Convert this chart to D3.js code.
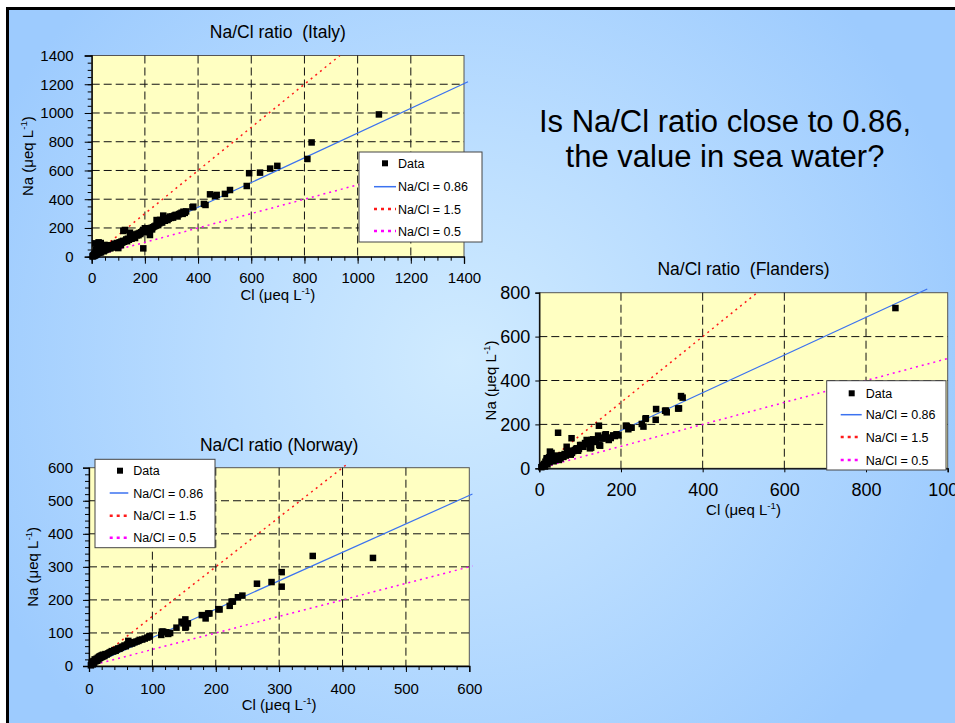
<!DOCTYPE html>
<html><head><meta charset="utf-8">
<script src="https://cdn.jsdelivr.net/npm/d3@7"></script>
<style>html,body{margin:0;padding:0;background:#fff;}svg{display:block;}text{font-family:"Liberation Sans",Arial,sans-serif;}</style>
</head><body>
<script>
// ---------- DATA ----------
const ratios = [0.86, 1.5, 0.5];
const legendLabels = ["Data", "Na/Cl = 0.86", "Na/Cl = 1.5", "Na/Cl = 0.5"];

// Italy (Cl, Na)
const italyData = [
[3,2],[5,8],[6,4],[8,12],[9,6],[10,15],[11,9],[12,20],[13,93],[14,11],[15,30],[16,14],[17,50],[18,22],[19,70],[20,18],[21,40],[22,85],[23,25],[24,60],[25,30],[26,100],[27,35],[28,75],[29,28],[30,45],[31,81],[32,55],[33,38],[34,95],[35,30],[36,65],[38,48],[40,42],[42,70],[44,55],[45,38],[47,60],[48,82],[50,45],[52,66],[54,50],[55,75],[57,58],[60,52],[62,70],[64,60],[66,80],[68,62],[70,58],[72,75],[75,68],[78,80],[80,70],[83,64],[85,90],[88,78],[90,72],[92,85],[95,95],[98,82],[100,60],[102,90],[105,100],[108,88],[110,80],[112,105],[115,98],[118,110],[119,179],[122,104],[125,186],[128,112],[130,120],[133,108],[136,125],[140,118],[144,167],[145,130],[148,140],[150,125],[153,135],[156,150],[160,140],[163,130],[166,155],[170,148],[173,160],[176,150],[180,165],[183,158],[186,170],[190,175],[194,58],[194,186],[198,170],[200,198],[204,180],[208,190],[212,185],[215,195],[219,186],[219,151],[223,200],[227,190],[230,205],[235,210],[240,215],[244,255],[247,225],[250,220],[254,232],[257,256],[260,240],[265,238],[269,286],[272,260],[275,250],[280,270],[285,255],[290,265],[294,279],[298,270],[302,280],[306,272],[310,285],[315,290],[319,290],[323,280],[328,295],[332,300],[338,306],[342,298],[345,313],[350,305],[355,315],[379,344],[382,348],[422,367],[428,360],[445,434],[464,423],[470,430],[501,437],[520,464],[583,492],[592,581],[633,585],[671,613],[698,632],[811,680],[827,795],[1080,990]
];
// Flanders (Cl, Na)
const flandersData = [
[5,5],[8,10],[10,15],[12,20],[14,8],[15,30],[17,25],[18,38],[18,46],[20,18],[22,35],[24,50],[25,28],[26,76],[28,60],[29,40],[30,70],[32,45],[34,55],[35,32],[37,48],[40,42],[42,58],[45,50],[46,162],[48,38],[50,55],[52,45],[55,60],[58,52],[59,53],[62,65],[65,58],[67,98],[68,75],[71,68],[74,80],[77,62],[79,137],[80,70],[83,78],[87,83],[90,88],[92,91],[95,80],[97,88],[100,106],[104,106],[108,98],[112,115],[116,129],[120,110],[124,114],[124,91],[127,94],[128,129],[132,132],[136,120],[140,125],[144,149],[146,194],[147,106],[149,103],[152,140],[155,135],[161,152],[163,155],[165,140],[170,129],[175,138],[181,150],[185,147],[189,155],[194,150],[212,194],[214,193],[218,178],[222,185],[226,185],[251,202],[255,190],[260,225],[261,228],[285,221],[286,270],[308,262],[310,263],[312,255],[340,272],[342,273],[347,329],[351,322],[872,730]
];
// Norway (Cl, Na)
const norwayData = [
[3,2],[4,8],[5,12],[6,5],[7,15],[8,10],[9,20],[10,14],[11,18],[12,22],[13,16],[14,25],[15,20],[16,28],[17,24],[18,30],[19,26],[20,32],[21,28],[22,34],[24,30],[25,33],[26,36],[28,35],[30,38],[32,40],[34,42],[36,45],[38,44],[40,48],[42,46],[44,50],[46,53],[48,52],[50,55],[52,58],[54,58],[56,62],[58,60],[60,65],[62,76],[64,66],[66,70],[68,68],[70,72],[72,72],[75,74],[78,76],[80,79],[84,80],[88,83],[92,86],[95,89],[96,91],[114,94],[115,104],[117,104],[122,102],[125,97],[128,100],[138,116],[146,134],[149,129],[152,141],[152,116],[153,119],[156,129],[178,154],[184,144],[188,159],[190,159],[204,172],[206,171],[222,182],[225,195],[227,195],[235,208],[242,213],[265,249],[288,254],[304,284],[304,240],[353,333],[448,327]
];
// Ratio line end (Cl value) for [0.86, 1.5, 0.5]
const italyLineEnds = [1415, 933, 1415];
const flandersLineEnds = [950, 537, 1000];
const norwayLineEnds = [605, 405, 605];

// Tick values
const italyTicks = [0,200,400,600,800,1000,1200,1400];
const flandersXTicks = [0,200,400,600,800,1000];
const flandersYTicks = [0,200,400,600,800];
const norwayTicks = [0,100,200,300,400,500,600];

const titles = ["Na/Cl ratio  (Italy)", "Na/Cl ratio  (Flanders)", "Na/Cl ratio (Norway)"];
const question = ["Is Na/Cl ratio close to 0.86,", "the value in sea water?"];

// ---------- DRAW ----------
const W = 955, H = 723;
const svg = d3.select("body").append("svg").attr("width", W).attr("height", H);
const defs = svg.append("defs");
const rg = defs.append("radialGradient").attr("id","bg").attr("gradientUnits","userSpaceOnUse")
  .attr("cx",460).attr("cy",360).attr("r",520);
rg.append("stop").attr("offset","0").attr("stop-color","#D0EBFF");
rg.append("stop").attr("offset","0.45").attr("stop-color","#BADDFF");
rg.append("stop").attr("offset","1").attr("stop-color","#9DCBFE");

svg.append("rect").attr("width",W).attr("height",H).attr("fill","#fff");
svg.append("rect").attr("x",8).attr("y",8).attr("width",W-8).attr("height",H-8).attr("fill","url(#bg)");
svg.append("path").attr("d","M7.5,723V8.5H955").attr("fill","none").attr("stroke","#000").attr("stroke-width",3);

const lineStyles = [
  {color:"#3B72F0", dash:null, w:1.2, lw:1.5, ldash:null},
  {color:"#FF1A1A", dash:"2,4", w:1.5, lw:2.5, ldash:"3,4"},
  {color:"#FF00FF", dash:"2,4", w:1.5, lw:2.5, ldash:"3,4"}
];

function addAxisTitle(g, text, x, y, rotate, size){
  const t = g.append("text").attr("font-size", size).attr("text-anchor","middle").attr("fill","#000");
  if (rotate) t.attr("transform", `translate(${x},${y}) rotate(-90)`);
  else t.attr("x", x).attr("y", y);
  t.append("tspan").text(text + " (μeq L");
  t.append("tspan").attr("font-size", size*0.65).attr("dy", -size*0.4).text("-1");
  t.append("tspan").attr("dy", size*0.4).text(")");
}

function chart(cfg){
  const g = svg.append("g");
  const x = d3.scaleLinear().domain(cfg.xDomain).range([cfg.l, cfg.r]);
  const y = d3.scaleLinear().domain(cfg.yDomain).range([cfg.b, cfg.t]);
  g.append("rect").attr("x",cfg.l).attr("y",cfg.t).attr("width",cfg.r-cfg.l).attr("height",cfg.b-cfg.t)
    .attr("fill","#FFFFC2").attr("stroke","#555").attr("stroke-width",1);
  // grid
  const gx = cfg.xTicks.filter(v => v > cfg.xDomain[0] && v < cfg.xDomain[1]);
  const gy = cfg.yTicks.filter(v => v > cfg.yDomain[0] && v < cfg.yDomain[1]);
  g.selectAll(".gx").data(gx).join("line").attr("x1",d=>x(d)).attr("x2",d=>x(d)).attr("y1",cfg.t).attr("y2",cfg.b)
    .attr("stroke","#111").attr("stroke-dasharray","8,4");
  g.selectAll(".gy").data(gy).join("line").attr("y1",d=>y(d)).attr("y2",d=>y(d)).attr("x1",cfg.l).attr("x2",cfg.r)
    .attr("stroke","#111").attr("stroke-dasharray","8,4");
  // axes
  const fmt = d3.format("d");
  const ax = g.append("g").attr("transform",`translate(0,${cfg.b})`)
    .call(d3.axisBottom(x).tickValues(cfg.xTicks).tickFormat(fmt).tickSize(cfg.tick).tickPadding(cfg.xpad));
  const ay = g.append("g").attr("transform",`translate(${cfg.l},0)`)
    .call(d3.axisLeft(y).tickValues(cfg.yTicks).tickFormat(fmt).tickSize(cfg.tick).tickPadding(cfg.ypad));
  if (cfg.xMinor){
    g.append("g").attr("transform",`translate(0,${cfg.b})`)
      .call(d3.axisBottom(x).tickValues(d3.range(cfg.xDomain[0], cfg.xDomain[1], cfg.xMinor)).tickFormat("").tickSize(4))
      .call(s=>s.select(".domain").remove());
    g.append("g").attr("transform",`translate(${cfg.l},0)`)
      .call(d3.axisLeft(y).tickValues(d3.range(cfg.yDomain[0], cfg.yDomain[1], cfg.yMinor)).tickFormat("").tickSize(4))
      .call(s=>s.select(".domain").remove());
  }
  [ax, ay].forEach(a => {
    a.selectAll("text").attr("font-size", cfg.fs).attr("fill","#000").attr("font-family",'"Liberation Sans",Arial,sans-serif');
    a.selectAll("line").attr("stroke","#000");
    a.select(".domain").attr("stroke","#000").attr("stroke-width",1.3);
  });
  // ratio lines
  ratios.forEach((r, i) => {
    const st = lineStyles[i];
    g.append("line").attr("x1",x(0)).attr("y1",y(0)).attr("x2",x(cfg.ends[i])).attr("y2",y(cfg.ends[i]*r))
      .attr("stroke",st.color).attr("stroke-width",st.w).attr("stroke-dasharray",st.dash);
  });
  // points
  const ms = 6.5;
  g.selectAll(".pt").data(cfg.data).join("rect")
    .attr("x",d=>x(d[0])-ms/2).attr("y",d=>y(d[1])-ms/2).attr("width",ms).attr("height",ms).attr("fill","#000");
  // title
  g.append("text").attr("x",(cfg.l+cfg.r)/2).attr("y",cfg.titleY).attr("text-anchor","middle")
    .attr("font-size",17.5).attr("fill","#000").style("white-space","pre").text(cfg.title);
  addAxisTitle(g, "Cl", (cfg.l+cfg.r)/2, cfg.xTitleY, false, 15);
  addAxisTitle(g, "Na", cfg.yTitleX, (cfg.t+cfg.b)/2, true, 15);
  // legend
  const L = cfg.legend;
  g.append("rect").attr("x",L.x).attr("y",L.y).attr("width",L.w).attr("height",L.h)
    .attr("fill","#fff").attr("stroke","#444").attr("stroke-width",1);
  legendLabels.forEach((lab, i) => {
    const yy = L.rows[i];
    if (i === 0){
      g.append("rect").attr("x",L.mx-3).attr("y",yy-3).attr("width",6).attr("height",6).attr("fill","#000");
    } else {
      const st = lineStyles[i-1];
      g.append("line").attr("x1",L.lx1).attr("x2",L.lx2).attr("y1",yy).attr("y2",yy)
        .attr("stroke",st.color).attr("stroke-width",st.lw).attr("stroke-dasharray",st.ldash);
    }
    g.append("text").attr("x",L.tx).attr("y",yy).attr("dy","0.36em").attr("font-size",12.5).attr("fill","#000").text(lab);
  });
}

chart({title:titles[0], data:italyData, ends:italyLineEnds,
  xDomain:[0,1400], yDomain:[0,1400], xTicks:italyTicks, yTicks:italyTicks, xMinor:50, yMinor:50,
  l:91.7, r:464, t:55.5, b:256.7, tick:7, xpad:9, ypad:11, fs:15,
  titleY:38, xTitleY:300, yTitleX:33,
  legend:{x:359, y:152, w:123, h:90, rows:[163.3,186.7,209,231], mx:385, lx1:374, lx2:396, tx:398}});

chart({title:titles[1], data:flandersData, ends:flandersLineEnds,
  xDomain:[0,1000], yDomain:[0,800], xTicks:flandersXTicks, yTicks:flandersYTicks, xMinor:null,
  l:539.3, r:947.7, t:292.7, b:468.3, tick:4, xpad:11, ypad:5, fs:18,
  titleY:275, xTitleY:515, yTitleX:496,
  legend:{x:826.7, y:380.7, w:119.3, h:89.3, rows:[393.3,414.7,437,460], mx:851.7, lx1:840.7, lx2:861.7, tx:865.7}});

chart({title:titles[2], data:norwayData, ends:norwayLineEnds,
  xDomain:[0,600], yDomain:[0,600], xTicks:norwayTicks, yTicks:norwayTicks, xMinor:20, yMinor:20,
  l:89, r:469.3, t:467.7, b:666, tick:6, xpad:11, ypad:10, fs:15,
  titleY:450.7, xTitleY:710, yTitleX:38,
  legend:{x:95, y:459.3, w:120, h:88.4, rows:[470.7,493,515.7,537.7], mx:120, lx1:109.7, lx2:128.3, tx:133.3}});

const q = svg.append("text").attr("text-anchor","middle").attr("font-size",31).attr("fill","#000");
question.forEach((s,i) => q.append("tspan").attr("x",725).attr("y",131.7 + i*35.6).text(s));
</script>
</body></html>
